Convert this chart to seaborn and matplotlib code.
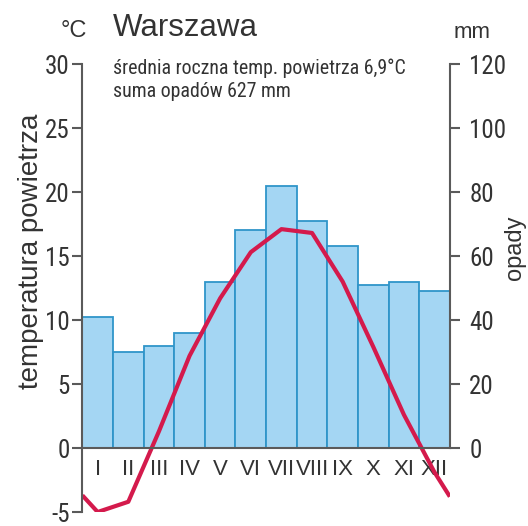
import matplotlib
matplotlib.use("Agg")
import matplotlib.pyplot as plt
from matplotlib import font_manager
import seaborn as sns
import numpy as np
import pandas as pd

# climate data for Warszawa
months = ['I', 'II', 'III', 'IV', 'V', 'VI', 'VII', 'VIII', 'IX', 'X', 'XI', 'XII']
precip = [41, 30, 32, 36, 52, 68, 82, 71, 63, 51, 52, 49]
temp = [-5.0, -4.2, 1.3, 7.2, 11.7, 15.3, 17.1, 16.8, 13.0, 7.9, 2.6, -1.9]
temp_edges = [-3.7, -3.8]  # line value at the left / right border of the chart

temp_ticks = [-5, 0, 5, 10, 15, 20, 25, 30]
precip_ticks = [0, 20, 40, 60, 80, 100, 120]

title = 'Warszawa'
subtitle = 'średnia roczna temp. powietrza 6,9°C\nsuma opadów 627 mm'

sns.set_style("white")
plt.rcParams['font.family'] = ['Liberation Sans', 'DejaVu Sans']

# look for a narrow font, the chart uses condensed digits
names = {f.name for f in font_manager.fontManager.ttflist}
narrow = None
for cand in ['Liberation Sans Narrow', 'Arial Narrow', 'Roboto Condensed', 'Open Sans Condensed']:
    if cand in names:
        narrow = cand
        break
if narrow:
    tick_size, month_size, sub_size = 18, 16, 14.3
    narrow_fam = narrow
else:
    tick_size, month_size, sub_size = 16, 14, 12.5
    narrow_fam = 'Liberation Sans'

axis_col = '#5a5a5a'
text_col = '#333333'
bar_fill = '#a4d6f3'
bar_edge = '#2f95c9'
line_col = '#d41a4c'

fig = plt.figure(figsize=(5.28, 5.26), dpi=100)
ax = fig.add_axes([0.156, 0.0266, 0.696, 0.8517])
ax2 = ax.twinx()

pos = np.arange(len(months))
df_p = pd.DataFrame({'pos': pos, 'precip': precip})
sns.barplot(data=df_p, x='pos', y='precip', ax=ax2, native_scale=True, width=1,
            color=bar_fill, saturation=1, edgecolor=bar_edge, linewidth=1.3)

line_x = np.concatenate([[-0.5], pos, [len(months) - 0.5]])
line_y = [temp_edges[0]] + temp + [temp_edges[1]]
df_t = pd.DataFrame({'pos': line_x, 'temp': line_y})
sns.lineplot(data=df_t, x='pos', y='temp', ax=ax, color=line_col, linewidth=3,
             sort=False, solid_joinstyle='round', solid_capstyle='butt')

ax.set_zorder(ax2.get_zorder() + 1)
ax.patch.set_visible(False)

ax.set_xlim(-0.5, len(months) - 0.5)
ax.set_ylim(-5, 30)
ax2.set_ylim(-20, 120)

ax.set_xticks(pos, months)
ax.set_yticks(temp_ticks, [str(t) for t in temp_ticks])
ax2.set_yticks(precip_ticks, [str(p) for p in precip_ticks])
for lab in ax.get_xticklabels():
    lab.set_fontsize(month_size)
    lab.set_family(narrow_fam)
for lab in ax.get_yticklabels() + ax2.get_yticklabels():
    lab.set_fontsize(tick_size)
    lab.set_family(narrow_fam)

ax.tick_params(axis='x', length=0, pad=8, labelcolor=text_col, labelsize=month_size)
ax.tick_params(axis='y', length=7, width=1.5, color=axis_col, pad=2, labelcolor=text_col)
ax2.tick_params(axis='y', length=7, width=1.5, color=axis_col, pad=7, labelcolor=text_col)

for s in ['top', 'right']:
    ax.spines[s].set_visible(False)
ax.spines['bottom'].set_position(('data', 0))
for s in ['bottom', 'left']:
    ax.spines[s].set_color(axis_col)
    ax.spines[s].set_linewidth(1.5)
for s in ['top', 'left', 'bottom']:
    ax2.spines[s].set_visible(False)
ax2.spines['right'].set_bounds(0, 120)
ax2.spines['right'].set_color(axis_col)
ax2.spines['right'].set_linewidth(1.5)

ax.set_xlabel('')
ax.set_ylabel('temperatura powietrza', fontsize=20, color=text_col)
ax.yaxis.set_label_coords(-0.104, 0.5826)
ax2.set_ylabel('opady', fontsize=17, color=text_col)
ax2.yaxis.set_label_coords(1.147, 0.589)

fig.text(74 / 528, 1 - 37 / 526, '°C', fontsize=17, ha='center', va='baseline', color=text_col)
fig.text(113 / 528, 1 - 36 / 526, title, fontsize=22.5, ha='left', va='baseline', color=text_col)
fig.text(472 / 528, 1 - 38 / 526, 'mm', fontsize=16, ha='center', va='baseline', color=text_col)
fig.text(113 / 528, 1 - 97 / 526, subtitle, fontsize=sub_size, family=narrow_fam, ha='left',
         va='baseline', linespacing=1.3, color=text_col)

fig.savefig('out.png', dpi=100)
